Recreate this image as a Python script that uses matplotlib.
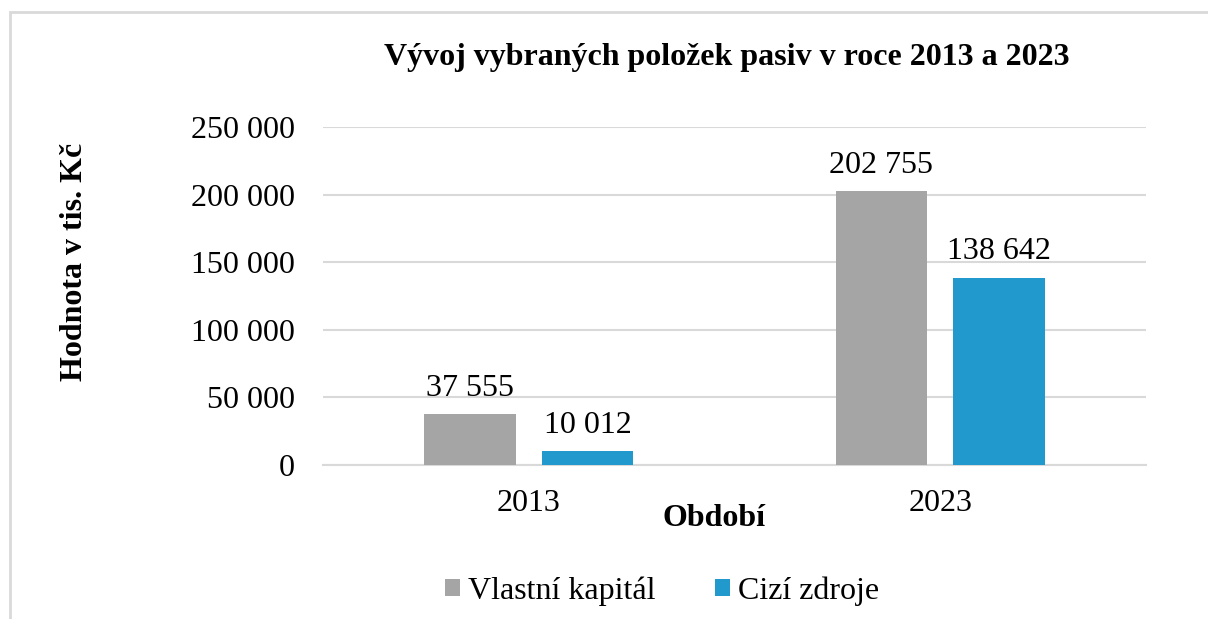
import matplotlib.pyplot as plt
import numpy as np
from matplotlib.patches import Rectangle

plt.rcParams['font.family'] = ['Liberation Serif', 'DejaVu Serif']

# data
periods = ['2013', '2023']
series_names = ['Vlastní kapitál', 'Cizí zdroje']
vlastni_kapital = [37555, 202755]
cizi_zdroje = [10012, 138642]
colors = ['#a5a5a5', '#2199cc']


def fmt(v):
    return f"{v:,.0f}".replace(',', ' ')


fig = plt.figure(figsize=(12.08, 6.19), dpi=100)
ax = fig.add_axes([323 / 1208, 1 - 465 / 619, 823 / 1208, 338 / 619])

x = np.arange(len(periods))
w = 0.223
off = 0.143
b1 = ax.bar(x - off, vlastni_kapital, w, color=colors[0], label=series_names[0], zorder=3)
b2 = ax.bar(x + off, cizi_zdroje, w, color=colors[1], label=series_names[1], zorder=3)

for bars in (b1, b2):
    for r in bars:
        ax.annotate(fmt(r.get_height()), (r.get_x() + r.get_width() / 2, r.get_height()),
                    xytext=(0, 8), textcoords='offset points', ha='center', va='bottom',
                    fontsize=23)

ax.set_xlim(-0.5, 1.5)
ax.set_ylim(0, 250000)
ax.set_yticks(np.arange(0, 250001, 50000))
ax.set_yticklabels([fmt(v) for v in ax.get_yticks()], fontsize=23)
ax.set_xticks(x)
ax.set_xticklabels(periods, fontsize=23)
ax.tick_params(axis='x', length=0, pad=17)
ax.tick_params(axis='y', length=0, pad=20)
ax.grid(axis='y', color='#d9d9d9', linewidth=1.5, zorder=0)
for s in ['top', 'right', 'left']:
    ax.spines[s].set_visible(False)
ax.spines['bottom'].set_color('#d9d9d9')
ax.spines['bottom'].set_linewidth(1.5)

fig.text(727 / 1208, 1 - 57 / 619, 'Vývoj vybraných položek pasiv v roce 2013 a 2023',
         ha='center', va='center', fontsize=23, fontweight='bold')
fig.text(714 / 1208, 1 - 519 / 619, 'Období', ha='center', va='center',
         fontsize=23, fontweight='bold')
fig.text(75 / 1208, 1 - 262 / 619, 'Hodnota v tis. Kč', ha='center', va='center',
         rotation=90, fontsize=23, fontweight='bold')

fig.legend(loc='center', bbox_to_anchor=(662 / 1208, 1 - 591 / 619), ncol=2,
           frameon=False, fontsize=23, handlelength=0.47, handleheight=0.47,
           handletextpad=0.25, columnspacing=1.85)

fig.patches.append(Rectangle((10 / 1208, -0.1), 1.2, 1 - 12 / 619 + 0.1,
                             transform=fig.transFigure, fill=False,
                             edgecolor='#d9d9d9', linewidth=2))

fig.savefig('out.png', dpi=100)
